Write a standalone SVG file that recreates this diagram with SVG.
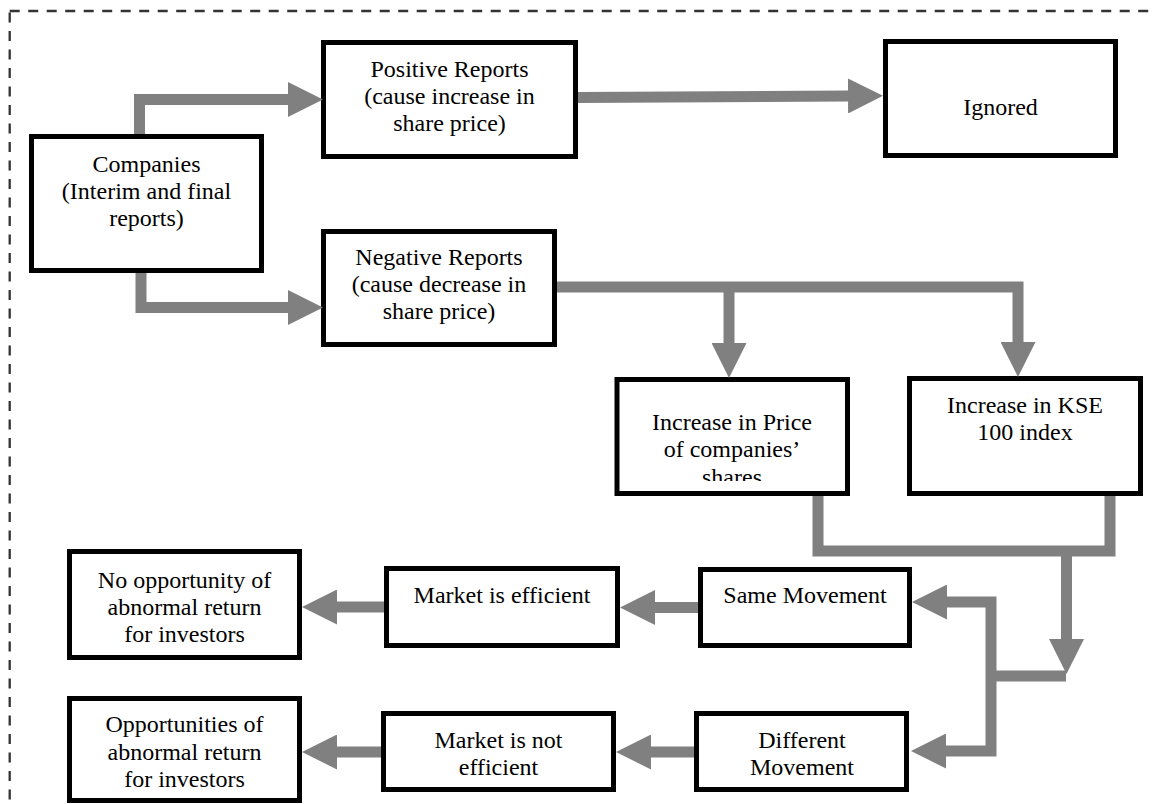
<svg xmlns="http://www.w3.org/2000/svg" width="1155" height="804" viewBox="0 0 1155 804">
<defs>
<style>
.box{fill:#fff;stroke:#000;stroke-width:5}
.t{font-family:"Liberation Serif","Times New Roman",serif;font-size:24px;fill:#000;text-anchor:middle}
.c{fill:none;stroke:#808080;stroke-width:11;stroke-linejoin:miter;stroke-linecap:butt}
.frame{fill:none;stroke:#333;stroke-width:2.3;stroke-dasharray:10 8.5}
</style>
<marker id="ah" markerUnits="userSpaceOnUse" viewBox="0 0 35 35" markerWidth="35" markerHeight="35" refX="0" refY="17.5" orient="auto">
<path d="M0,0 L35,17.5 L0,35 Z" fill="#808080"/>
</marker>
<clipPath id="clipPrice"><rect x="617" y="380" width="231" height="101"/></clipPath>
</defs>
<rect width="1155" height="804" fill="#fff"/>
<rect class="frame" x="9.7" y="11" width="1200" height="850"/>

<g id="companies"><rect class="box" x="31.5" y="136.5" width="230" height="134"/>
<text class="t" x="146.5" y="172">Companies</text><text class="t" x="146.5" y="199">(Interim and final</text><text class="t" x="146.5" y="226">reports)</text></g>

<g id="positive"><rect class="box" x="323.5" y="42.5" width="252" height="114"/>
<text class="t" x="449.5" y="77">Positive Reports</text><text class="t" x="449.5" y="104">(cause increase in</text><text class="t" x="449.5" y="131">share price)</text></g>

<g id="ignored"><rect class="box" x="885.5" y="41.5" width="230" height="114"/>
<text class="t" x="1000.5" y="115">Ignored</text></g>

<g id="negative"><rect class="box" x="323.5" y="231.5" width="231" height="113"/>
<text class="t" x="439" y="265">Negative Reports</text><text class="t" x="439" y="292">(cause decrease in</text><text class="t" x="439" y="319">share price)</text></g>

<g id="price"><rect class="box" x="617" y="379.5" width="230.5" height="114"/>
<g clip-path="url(#clipPrice)"><text class="t" x="732" y="430">Increase in Price</text><text class="t" x="732" y="457">of companies’</text><text class="t" x="732" y="485">shares</text></g></g>

<g id="kse"><rect class="box" x="909.5" y="378.5" width="231" height="115"/>
<text class="t" x="1025" y="413">Increase in KSE</text><text class="t" x="1025" y="440">100 index</text></g>

<g id="same"><rect class="box" x="700.5" y="569.5" width="209" height="76"/>
<text class="t" x="805" y="603">Same Movement</text></g>

<g id="different"><rect class="box" x="696.5" y="713.5" width="210" height="76"/>
<text class="t" x="802" y="748">Different</text><text class="t" x="802" y="775">Movement</text></g>

<g id="efficient"><rect class="box" x="386.5" y="568.5" width="231" height="77"/>
<text class="t" x="502" y="603">Market is efficient</text></g>

<g id="notefficient"><rect class="box" x="383.5" y="713.5" width="230" height="76"/>
<text class="t" x="498.5" y="748">Market is not</text><text class="t" x="498.5" y="775">efficient</text></g>

<g id="noopportunity"><rect class="box" x="69.5" y="551.5" width="230" height="106"/>
<text class="t" x="184.5" y="588">No opportunity of</text><text class="t" x="184.5" y="615">abnormal return</text><text class="t" x="184.5" y="642">for investors</text></g>

<g id="opportunities"><rect class="box" x="69.5" y="698.5" width="230" height="102"/>
<text class="t" x="184.5" y="732">Opportunities of</text><text class="t" x="184.5" y="760">abnormal return</text><text class="t" x="184.5" y="787">for investors</text></g>

<g id="connectors">
<path class="c" d="M139.5,134 V99.5 H288" marker-end="url(#ah)"/>
<path class="c" d="M141,273 V307.5 H288" marker-end="url(#ah)"/>
<path class="c" d="M578,97.5 L848,96" marker-end="url(#ah)"/>
<path class="c" d="M557,287 H1018 V342" marker-end="url(#ah)"/>
<path class="c" d="M729,287 V343" marker-end="url(#ah)"/>
<path class="c" d="M818,496 V551 H1110 V496"/>
<path class="c" d="M1066.5,551 V639" marker-end="url(#ah)"/>
<path class="c" d="M1066,676 H991"/>
<path class="c" d="M991,676 V602 H947" marker-end="url(#ah)"/>
<path class="c" d="M991,676 V751 H946" marker-end="url(#ah)"/>
<path class="c" d="M698,607.5 H655" marker-end="url(#ah)"/>
<path class="c" d="M384,607 H337" marker-end="url(#ah)"/>
<path class="c" d="M694,752 H651" marker-end="url(#ah)"/>
<path class="c" d="M381,752 H337" marker-end="url(#ah)"/>
</g>
</svg>
